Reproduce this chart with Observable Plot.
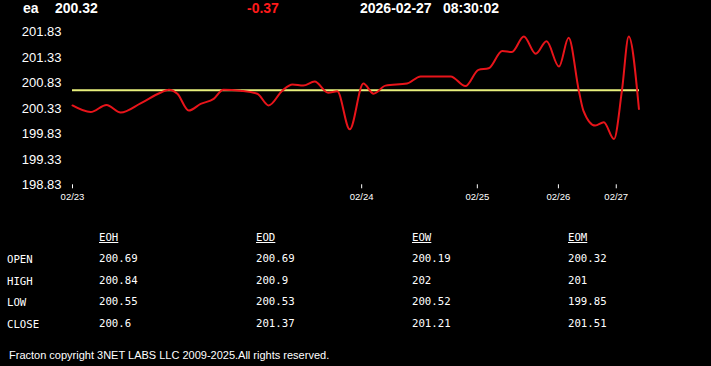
<!DOCTYPE html>
<html>
<head>
<meta charset="utf-8">
<script src="https://cdn.jsdelivr.net/npm/d3@7"></script>
<script src="https://cdn.jsdelivr.net/npm/@observablehq/plot@0.6"></script>
<style>
  html, body { margin: 0; padding: 0; background: #000; width: 711px; height: 366px; overflow: hidden; }
  #wrap { position: relative; width: 711px; height: 366px; }
  .hdr { position: absolute; top: 0; height: 20px; line-height: 20px; font: bold 14px "Liberation Sans", Arial, sans-serif; color: #fff; white-space: pre; }
  .tbl { position: absolute; font: 10.7px "DejaVu Sans Mono", monospace; color: #fff; line-height: 14px; white-space: pre; }
  .tbl.h { text-decoration: underline; }
  #chart { position: absolute; left: 0; top: 20px; }
  #foot { position: absolute; left: 9px; top: 348px; font: 11px "Liberation Sans", Arial, sans-serif; color: #fff; line-height: 14px; white-space: pre; }
</style>
</head>
<body>
<div id="wrap"></div>
<script>
// ---- data ----
const symbol = "ea";
const lastPrice = "200.32";
const change = "-0.37";
const dateStr = "2026-02-27";
const timeStr = "08:30:02";

// sample position along the feed and price
const positions = [0, 3.2, 6, 8.5, 12, 15.5, 17, 18.5, 20.5, 22.6, 24.9, 26.6, 29.6, 32.6, 34.6, 37, 38.8, 40.7, 42.7, 45.1, 46.7, 48.9, 51.3, 53.1, 55.2, 59, 61.4, 66.7, 69.3, 71.6, 73.4, 75.8, 77.5, 79.6, 81.7, 83.6, 85.8, 87.5, 89.3, 90.1, 92.2, 93.7, 95.5, 96.9, 98.1, 99.9];
const prices = [200.39, 200.26, 200.40, 200.25, 200.43, 200.64, 200.70, 200.62, 200.29, 200.42, 200.52, 200.70, 200.68, 200.62, 200.39, 200.68, 200.80, 200.78, 200.86, 200.64, 200.67, 199.92, 200.82, 200.62, 200.78, 200.82, 200.96, 200.96, 200.77, 201.09, 201.12, 201.46, 201.44, 201.745, 201.405, 201.65, 201.155, 201.72, 200.68, 200.29, 199.995, 200.06, 199.73, 200.68, 201.745, 200.32];
const referencePrice = 200.69;

const xTickPositions = [0, 51, 71.4, 85.7, 95.9];
const xTickLabels = ["02/23", "02/24", "02/25", "02/26", "02/27"];
const yTicks = [198.83, 199.33, 199.83, 200.33, 200.83, 201.33, 201.83];

const tableCols = ["EOH", "EOD", "EOW", "EOM"];
const tableRows = ["OPEN", "HIGH", "LOW", "CLOSE"];
const eohValues = ["200.69", "200.84", "200.55", "200.6"];
const eodValues = ["200.69", "200.9", "200.53", "201.37"];
const eowValues = ["200.19", "202", "200.52", "201.21"];
const eomValues = ["200.32", "201", "199.85", "201.51"];
const footer = "Fracton copyright 3NET LABS LLC 2009-2025.All rights reserved.";

// ---- layout ----
const wrap = document.getElementById("wrap");
function addDiv(cls, text, left, top, color) {
  const d = document.createElement("div");
  d.className = cls;
  d.textContent = text;
  d.style.left = left + "px";
  if (top !== null) d.style.top = top + "px";
  if (color) d.style.color = color;
  wrap.appendChild(d);
  return d;
}
addDiv("hdr", symbol, 23, 0);
addDiv("hdr", lastPrice, 55, 0);
addDiv("hdr", change, 247, 0, "#ff1a1a");
addDiv("hdr", dateStr, 360, 0);
addDiv("hdr", timeStr, 443, 0);

const data = positions.map((p, i) => ({p, v: prices[i]}));

const chart = Plot.plot({
  width: 711,
  height: 190,
  marginLeft: 72,
  marginRight: 72,
  marginTop: 11.7,
  marginBottom: 25.7,
  style: {background: "#000", color: "#fff", fontFamily: "'Liberation Sans', Arial, sans-serif"},
  x: {domain: [0, 100]},
  y: {domain: [198.83, 201.83]},
  marks: [
    Plot.axisY({ticks: yTicks, tickSize: 0, tickPadding: 11, fontSize: 13, tickFormat: d => d.toFixed(2), label: null}),
    Plot.axisX({ticks: xTickPositions, tickSize: 4, tickPadding: 4, fontSize: 9.5, tickFormat: d => xTickLabels[xTickPositions.indexOf(d)], label: null}),
    Plot.ruleY([referencePrice], {stroke: "#e8f07c", strokeWidth: 2}),
    Plot.line(data, {x: "p", y: "v", stroke: "#e8141a", strokeWidth: 2, curve: "monotone-x"})
  ]
});
chart.id = "chart";
wrap.appendChild(chart);

// table
const colX = [99, 256, 412, 568];
const rowY = [253, 274.5, 296, 317.5];
const colValues = [eohValues, eodValues, eowValues, eomValues];
tableCols.forEach((c, j) => addDiv("tbl h", c, colX[j], 231));
tableRows.forEach((r, i) => {
  addDiv("tbl", r, 7, rowY[i]);
  colValues.forEach((vals, j) => addDiv("tbl", vals[i], colX[j], rowY[i] - 1));
});
const f = document.createElement("div");
f.id = "foot";
f.textContent = footer;
wrap.appendChild(f);
</script>
</body>
</html>
